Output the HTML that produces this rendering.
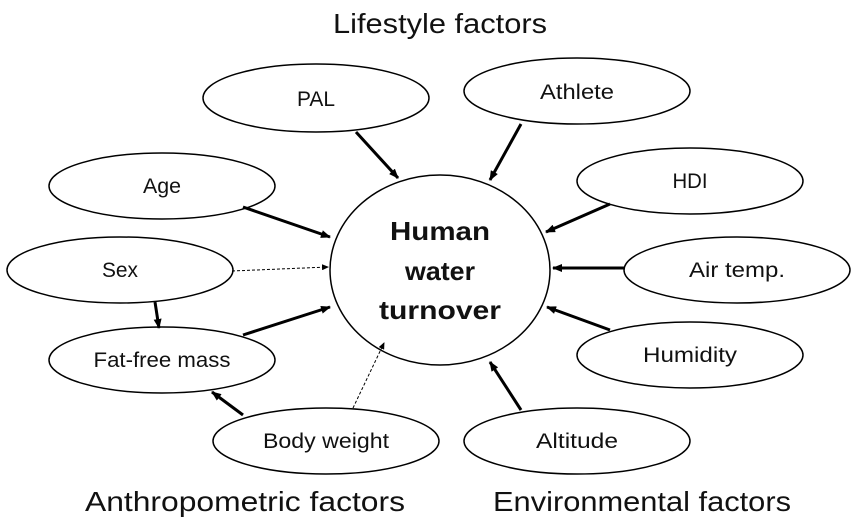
<!DOCTYPE html>
<html><head><meta charset="utf-8"><style>
body{margin:0;background:#fff}
svg{display:block}
text{font-family:"Liberation Sans",sans-serif;fill:#111}
</style></head><body>
<svg width="864" height="519" viewBox="0 0 864 519" xmlns="http://www.w3.org/2000/svg">
<defs>
<marker id="a" markerWidth="10" markerHeight="8" refX="9" refY="4" orient="auto" markerUnits="userSpaceOnUse"><path d="M0,0 L10,4 L0,8 z" fill="#000"/></marker>
<marker id="b" markerWidth="7" markerHeight="6" refX="6" refY="3" orient="auto" markerUnits="userSpaceOnUse"><path d="M0,0 L7,3 L0,6 z" fill="#000"/></marker>
</defs>
<g fill="#fff" stroke="#000" stroke-width="1.5">
<ellipse cx="440" cy="270" rx="110" ry="95"/>
<ellipse cx="316" cy="98" rx="113" ry="34"/>
<ellipse cx="577" cy="91" rx="113" ry="33"/>
<ellipse cx="162" cy="186" rx="113" ry="33"/>
<ellipse cx="690" cy="181" rx="113" ry="33"/>
<ellipse cx="120" cy="270" rx="113" ry="33"/>
<ellipse cx="737" cy="270" rx="113" ry="33"/>
<ellipse cx="162" cy="360" rx="113" ry="33"/>
<ellipse cx="690" cy="355" rx="113" ry="33"/>
<ellipse cx="326" cy="441" rx="113" ry="33"/>
<ellipse cx="577" cy="441" rx="113" ry="33"/>
</g>
<g stroke="#000" stroke-width="3" marker-end="url(#a)">
<line x1="356" y1="132" x2="398" y2="178"/>
<line x1="521" y1="124" x2="490" y2="180"/>
<line x1="243" y1="207" x2="330" y2="237"/>
<line x1="610" y1="204" x2="546" y2="232"/>
<line x1="625" y1="268" x2="553" y2="268"/>
<line x1="243" y1="335" x2="330" y2="307"/>
<line x1="610" y1="330" x2="547" y2="307"/>
<line x1="521" y1="410" x2="490" y2="362"/>
<line x1="155" y1="302" x2="159" y2="328"/>
<line x1="243" y1="415" x2="212" y2="392"/>
</g>
<g stroke="#000" stroke-width="1" stroke-dasharray="3,2" marker-end="url(#b)">
<line x1="232" y1="271" x2="328" y2="267"/>
<line x1="353" y1="408" x2="384" y2="343"/>
</g>
<g font-size="21" text-anchor="middle" lengthAdjust="spacingAndGlyphs">
<text x="316" y="106" textLength="38" lengthAdjust="spacingAndGlyphs">PAL</text>
<text x="577" y="99" textLength="74" lengthAdjust="spacingAndGlyphs">Athlete</text>
<text x="162" y="193" textLength="38" lengthAdjust="spacingAndGlyphs">Age</text>
<text x="690" y="188" textLength="35" lengthAdjust="spacingAndGlyphs">HDI</text>
<text x="120" y="277" textLength="36" lengthAdjust="spacingAndGlyphs">Sex</text>
<text x="737" y="277" textLength="96" lengthAdjust="spacingAndGlyphs">Air temp.</text>
<text x="162" y="367" textLength="137" lengthAdjust="spacingAndGlyphs">Fat-free mass</text>
<text x="690" y="362" textLength="94" lengthAdjust="spacingAndGlyphs">Humidity</text>
<text x="326" y="448" textLength="126" lengthAdjust="spacingAndGlyphs">Body weight</text>
<text x="577" y="448" textLength="82" lengthAdjust="spacingAndGlyphs">Altitude</text>
</g>
<g font-size="26" font-weight="bold" text-anchor="middle">
<text x="440" y="240" textLength="100" lengthAdjust="spacingAndGlyphs">Human</text>
<text x="440" y="280" textLength="70" lengthAdjust="spacingAndGlyphs">water</text>
<text x="440" y="319" textLength="122" lengthAdjust="spacingAndGlyphs">turnover</text>
</g>
<g font-size="28" text-anchor="middle">
<text x="440" y="33" textLength="214" lengthAdjust="spacingAndGlyphs">Lifestyle factors</text>
<text x="245" y="511" textLength="320" lengthAdjust="spacingAndGlyphs">Anthropometric factors</text>
<text x="642" y="511" textLength="298" lengthAdjust="spacingAndGlyphs">Environmental factors</text>
</g>
</svg>
</body></html>
